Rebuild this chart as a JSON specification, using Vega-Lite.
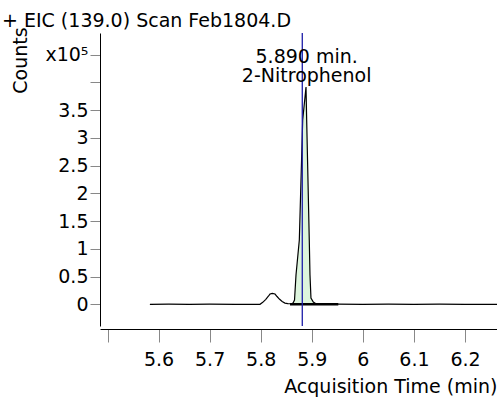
{
  "$schema": "https://vega.github.io/schema/vega-lite/v6.json",
  "autosize": {"type": "none"},
  "padding": {"left": 100, "top": 33, "right": 0, "bottom": 74},
  "width": 397,
  "height": 293,
  "background": "white",
  "config": {
    "view": {"stroke": null},
    "font": "DejaVu Sans",
    "axis": {"grid": false, "labelFont": "DejaVu Sans", "titleFont": "DejaVu Sans", "labelColor": "black", "titleColor": "black", "titleFontWeight": "normal"},
    "axisX": {
      "tickCount": 8,
      "labelExpr": "datum.value < 5.55 ? '' : format(datum.value, '~g')",
      "offset": 3,
      "tickSize": 13,
      "tickColor": "#888888",
      "domainColor": "black",
      "labelFontSize": 19,
      "labelPadding": 8,
      "labelFlush": false,
      "labelOverlap": false,
      "labelBound": false,
      "titleFontSize": 19,
      "titleX": 397,
      "titleY": 63,
      "titleAlign": "right",
      "titleBaseline": "alphabetic"
    },
    "axisY": {
      "tickCount": 10,
      "labelExpr": "datum.value > 420000 ? 'x10⁵' : (datum.value == 400000 ? '' : format(datum.value / 100000, '~g'))",
      "tickSize": 10,
      "tickColor": "#888888",
      "domainColor": "black",
      "labelFontSize": 19,
      "labelPadding": 2,
      "labelFlush": false,
      "labelOverlap": false,
      "labelBound": false,
      "titleFontSize": 19,
      "titleAngle": 270,
      "titleX": -74,
      "titleY": 27,
      "titleAlign": "center",
      "titleBaseline": "alphabetic"
    }
  },
  "title": {
    "text": "+ EIC (139.0) Scan Feb1804.D",
    "anchor": "start",
    "frame": "group",
    "dx": -98,
    "dy": 25,
    "offset": 6,
    "baseline": "alphabetic",
    "font": "DejaVu Sans",
    "fontSize": 19,
    "fontWeight": "normal",
    "color": "black"
  },
  "datasets": {
    "trace": [
      {"t": 5.583, "counts": 0},
      {"t": 5.62, "counts": 300},
      {"t": 5.66, "counts": 0},
      {"t": 5.70, "counts": 300},
      {"t": 5.75, "counts": 0},
      {"t": 5.7986, "counts": 0},
      {"t": 5.804, "counts": 3500},
      {"t": 5.810, "counts": 9000},
      {"t": 5.815, "counts": 14500},
      {"t": 5.8182, "counts": 18500},
      {"t": 5.8227, "counts": 19800},
      {"t": 5.828, "counts": 18500},
      {"t": 5.832, "counts": 14000},
      {"t": 5.837, "counts": 9000},
      {"t": 5.842, "counts": 5000},
      {"t": 5.8475, "counts": 2200},
      {"t": 5.853, "counts": 1200},
      {"t": 5.8600, "counts": 1000},
      {"t": 5.8633, "counts": 2300},
      {"t": 5.8662, "counts": 7700},
      {"t": 5.8691, "counts": 52800},
      {"t": 5.8756, "counts": 115900},
      {"t": 5.8822, "counts": 332000},
      {"t": 5.8887, "counts": 391500},
      {"t": 5.8900, "counts": 332000},
      {"t": 5.8951, "counts": 115900},
      {"t": 5.8965, "counts": 52800},
      {"t": 5.8984, "counts": 11400},
      {"t": 5.9030, "counts": 4000},
      {"t": 5.9096, "counts": 0},
      {"t": 5.95, "counts": 300},
      {"t": 6.0, "counts": 0},
      {"t": 6.05, "counts": 300},
      {"t": 6.1, "counts": 0},
      {"t": 6.15, "counts": 300},
      {"t": 6.2, "counts": 0},
      {"t": 6.2627, "counts": 0}
    ],
    "integration": [
      {"start": 5.8574, "end": 5.9519, "level": 0}
    ],
    "marker": [
      {"expected_rt": 5.8814}
    ],
    "annotation": [
      {"rt": 5.890, "apex": 391500, "label": "5.890 min.\n2-Nitrophenol"}
    ]
  },
  "layer": [
    {
      "data": {"name": "trace"},
      "transform": [{"filter": "datum.t >= 5.8633 && datum.t <= 5.9096"}],
      "mark": {"type": "area", "color": "#ddf5dd", "opacity": 1},
      "encoding": {
        "x": {"field": "t", "type": "quantitative", "scale": {"domain": [5.48531, 6.26268], "nice": false, "zero": false}, "title": "Acquisition Time (min)"},
        "y": {"field": "counts", "type": "quantitative", "scale": {"domain": [-39100, 488800], "nice": false, "zero": false}, "title": "Counts"},
        "y2": {"datum": 0}
      }
    },
    {
      "data": {"name": "integration"},
      "mark": {"type": "rule", "color": "black", "strokeWidth": 2.5},
      "encoding": {
        "x": {"field": "start", "type": "quantitative", "title": "Acquisition Time (min)"},
        "x2": {"field": "end"},
        "y": {"field": "level", "type": "quantitative", "title": "Counts"}
      }
    },
    {
      "data": {"name": "trace"},
      "mark": {"type": "line", "color": "black", "strokeWidth": 1.2},
      "encoding": {
        "x": {"field": "t", "type": "quantitative", "title": "Acquisition Time (min)"},
        "y": {"field": "counts", "type": "quantitative", "title": "Counts"}
      }
    },
    {
      "data": {"name": "marker"},
      "mark": {"type": "rule", "color": "#1c1ca8", "strokeWidth": 1.3},
      "encoding": {
        "x": {"field": "expected_rt", "type": "quantitative", "title": "Acquisition Time (min)"}
      }
    },
    {
      "data": {"name": "annotation"},
      "mark": {"type": "text", "font": "DejaVu Sans", "fontSize": 19, "align": "center", "baseline": "alphabetic", "lineBreak": "\n", "lineHeight": 19, "dy": -24, "color": "black"},
      "encoding": {
        "x": {"field": "rt", "type": "quantitative", "title": "Acquisition Time (min)"},
        "y": {"field": "apex", "type": "quantitative", "title": "Counts"},
        "text": {"field": "label"}
      }
    }
  ]
}
